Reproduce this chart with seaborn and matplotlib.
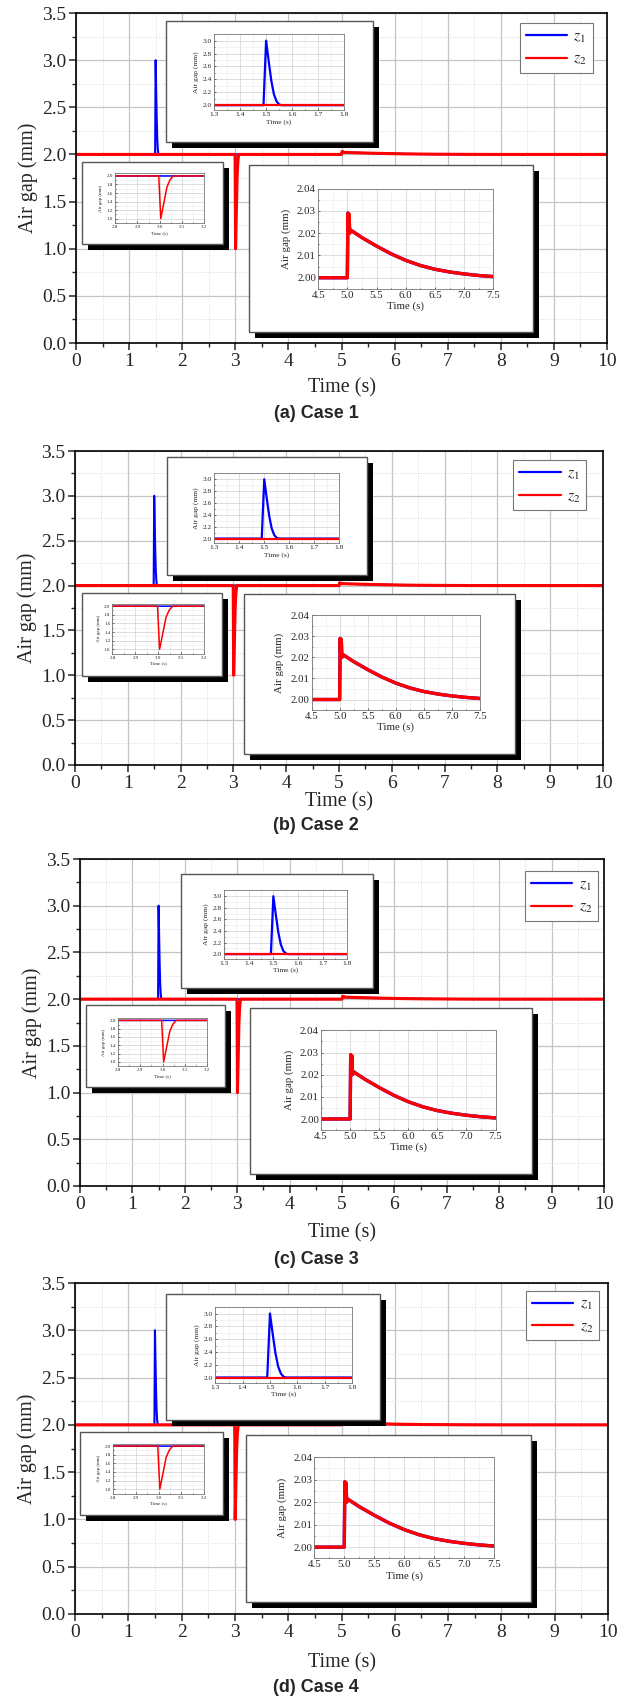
import numpy as np
import pandas as pd
import seaborn as sns
import matplotlib.pyplot as plt
from matplotlib.patches import Rectangle
from matplotlib.lines import Line2D
from matplotlib.ticker import MultipleLocator

# values (same response in all four cases)
time_s = [0.0, 1.49, 1.50, 1.51, 1.52, 1.53, 1.54, 1.55, 1.56,
          2.996, 3.005, 3.018, 3.033, 3.047, 3.062,
          5.0, 5.01, 5.02, 5.03, 5.04, 5.06, 5.25, 5.5, 5.75, 6.0,
          6.25, 6.5, 6.75, 7.0, 7.25, 7.5, 8.0, 10.0]
z1 = [2.0, 2.0, 3.0, 2.68, 2.38, 2.17, 2.06, 2.01, 2.0,
      2.0, 2.0, 2.0, 2.0, 2.0, 2.0,
      2.0, 2.029, 2.020, 2.0285, 2.020, 2.0213, 2.0180, 2.0142, 2.0107, 2.0078,
      2.0055, 2.0038, 2.0026, 2.0017, 2.0010, 2.0005, 2.0, 2.0]
z2 = [2.0, 2.0, 2.0, 2.0, 2.0, 2.0, 2.0, 2.0, 2.0,
      2.0, 1.0, 1.34, 1.74, 1.91, 2.0,
      2.0, 2.029, 2.020, 2.0285, 2.020, 2.0213, 2.0180, 2.0142, 2.0107, 2.0078,
      2.0055, 2.0038, 2.0026, 2.0017, 2.0010, 2.0005, 2.0, 2.0]
captions = ['(a) Case 1', '(b) Case 2', '(c) Case 3', '(d) Case 4']

df = pd.DataFrame({'Time': time_s, 'z1': z1, 'z2': z2})

# layout in pixels of the 632x1696 picture: left, right, top, bottom
main_px = [(76, 607, 13, 343), (75, 603, 451, 765), (80, 604, 859, 1186), (75, 608, 1283, 1614)]
xlabel_y = [388, 802, 1233, 1663]
caption_y = [414, 825, 1259, 1687]
# boxes in axes fraction: x0, x1, y0, y1
layouts = [
    dict(top_box=(0.170, 0.559, 0.608, 0.976), top_in=(0.260, 0.505, 0.705, 0.936),
         left_box=(0.011, 0.276, 0.300, 0.550), left_in=(0.074, 0.241, 0.364, 0.514),
         right_box=(0.326, 0.860, 0.034, 0.540), right_in=(0.456, 0.786, 0.164, 0.468),
         legend=(0.973, 0.969)),
    dict(top_box=(0.174, 0.553, 0.606, 0.982), top_in=(0.264, 0.500, 0.706, 0.929),
         left_box=(0.013, 0.278, 0.284, 0.549), left_in=(0.071, 0.245, 0.355, 0.514),
         right_box=(0.320, 0.834, 0.036, 0.545), right_in=(0.448, 0.767, 0.175, 0.477),
         legend=(0.968, 0.970)),
    dict(top_box=(0.192, 0.559, 0.606, 0.954), top_in=(0.275, 0.510, 0.695, 0.904),
         left_box=(0.011, 0.276, 0.303, 0.553), left_in=(0.073, 0.242, 0.367, 0.514),
         right_box=(0.324, 0.863, 0.036, 0.545), right_in=(0.460, 0.793, 0.171, 0.476),
         legend=(0.988, 0.963)),
    dict(top_box=(0.171, 0.572, 0.587, 0.967), top_in=(0.263, 0.520, 0.699, 0.927),
         left_box=(0.0095, 0.277, 0.299, 0.549), left_in=(0.072, 0.242, 0.364, 0.515),
         right_box=(0.320, 0.856, 0.035, 0.542), right_in=(0.449, 0.786, 0.168, 0.474),
         legend=(0.983, 0.977)),
]

BLUE = '#0000ff'
RED = '#ff0000'
SERIF = ['Liberation Serif', 'DejaVu Serif']

sns.set_style('ticks')
plt.rcParams['font.family'] = SERIF
plt.rcParams['mathtext.fontset'] = 'stix'

W, H = 632, 1696
fig = plt.figure(figsize=(W / 100, H / 100), dpi=100)


def draw_lines(ax, lw1, lw2):
    sns.lineplot(data=df, x='Time', y='z1', ax=ax, color=BLUE, lw=lw1, estimator=None, sort=False)
    sns.lineplot(data=df, x='Time', y='z2', ax=ax, color=RED, lw=lw2, estimator=None, sort=False)


def serif_ticks(ax):
    for lab in ax.get_xticklabels() + ax.get_yticklabels():
        lab.set_fontfamily(SERIF)


def framed_box(ax, box, wpx, hpx):
    x0, x1, y0, y1 = box
    dx, dy = 6 / wpx, 6 / hpx
    ax.add_patch(Rectangle((x0 + dx, y0 - dy), x1 - x0, y1 - y0, transform=ax.transAxes,
                           facecolor='black', edgecolor='none', zorder=3, clip_on=False))
    ax.add_patch(Rectangle((x0, y0), x1 - x0, y1 - y0, transform=ax.transAxes,
                           facecolor='white', edgecolor='#555555', lw=1.0, zorder=3.2, clip_on=False))


def inset(ax, pos, xlim, ylim, xmaj, xmin, ymaj, ymin, fs, lw1, lw2, yfmt, ylpad=2.5):
    x0, x1, y0, y1 = pos
    ia = ax.inset_axes([x0, y0, x1 - x0, y1 - y0], zorder=5)
    draw_lines(ia, lw1, lw2)
    ia.set_xlim(xlim)
    ia.set_ylim(ylim)
    ia.xaxis.set_major_locator(MultipleLocator(xmaj))
    ia.xaxis.set_minor_locator(MultipleLocator(xmin))
    ia.yaxis.set_major_locator(MultipleLocator(ymaj))
    ia.yaxis.set_minor_locator(MultipleLocator(ymin))
    ia.yaxis.set_major_formatter(yfmt)
    ia.xaxis.set_major_formatter('{x:.1f}')
    ia.grid(which='major', color='#cfcfcf', lw=0.5)
    ia.grid(which='minor', color='#ebebeb', lw=0.4)
    ia.set_axisbelow(True)
    ia.tick_params(which='both', labelsize=fs, length=1.5, width=0.5, pad=1.5, direction='in')
    ia.tick_params(which='minor', length=0.8)
    for s in ia.spines.values():
        s.set_color('#777777')
        s.set_linewidth(0.6)
    ia.set_xlabel('Time (s)', fontsize=fs, labelpad=1.2)
    ia.set_ylabel('Air gap (mm)', fontsize=fs, labelpad=ylpad)
    serif_ticks(ia)
    return ia


for i in range(4):
    l, r, t, b = main_px[i]
    wpx, hpx = r - l, b - t
    ax = fig.add_axes([l / W, 1 - b / H, wpx / W, hpx / H])
    draw_lines(ax, 1.5, 2.2)
    ax.set_xlim(0, 10)
    ax.set_ylim(0, 3.5)
    ax.xaxis.set_major_locator(MultipleLocator(1))
    ax.xaxis.set_minor_locator(MultipleLocator(0.5))
    ax.yaxis.set_major_locator(MultipleLocator(0.5))
    ax.yaxis.set_minor_locator(MultipleLocator(0.25))
    ax.yaxis.set_major_formatter('{x:.1f}')
    ax.grid(which='major', color='#c4c4c4', lw=0.9)
    ax.grid(which='minor', color='#d8d8d8', lw=0.7, ls=':')
    ax.set_axisbelow(True)
    ax.tick_params(which='major', labelsize=14, length=5, width=1.1, direction='out', pad=2)
    ax.tick_params(which='minor', length=3, width=1.0, direction='out')
    for s in ax.spines.values():
        s.set_color('black')
        s.set_linewidth(1.2)
    ax.set_xlabel('Time (s)', fontsize=14.5)
    ax.xaxis.set_label_coords(0.5, -(xlabel_y[i] - b - 10) / hpx)
    ax.set_ylabel('Air gap (mm)', fontsize=14.5, labelpad=3)
    serif_ticks(ax)

    lay = layouts[i]
    for key in ['top_box', 'left_box', 'right_box']:
        framed_box(ax, lay[key], wpx, hpx)
    inset(ax, lay['top_in'], (1.3, 1.8), (1.92, 3.1), 0.1, 0.05, 0.2, 0.1, 5.4, 1.6, 1.6, '{x:.1f}')
    inset(ax, lay['left_in'], (2.8, 3.2), (0.9, 2.06), 0.1, 0.05, 0.2, 0.1, 3.6, 1.1, 1.1, '{x:.1f}')
    inset(ax, lay['right_in'], (4.5, 7.5), (1.995, 2.04), 0.5, 0.25, 0.01, 0.005, 7.8, 2.4, 2.4,
          '{x:.2f}', ylpad=4.5)

    handles = [Line2D([], [], color=BLUE, lw=1.6), Line2D([], [], color=RED, lw=1.6)]
    leg = ax.legend(handles, ['$z_1$', '$z_2$'], loc='upper right', bbox_to_anchor=lay['legend'],
                    bbox_transform=ax.transAxes, frameon=True, fancybox=False, framealpha=1,
                    edgecolor='#777777', borderaxespad=0, handlelength=2.6, labelspacing=0.4,
                    handletextpad=0.4, borderpad=0.35, fontsize=11.5)
    leg.get_frame().set_linewidth(0.8)
    leg.set_zorder(6)

    fig.text(0.5, 1 - caption_y[i] / H, captions[i], ha='center', va='center',
             fontsize=13, fontweight='bold', family='Liberation Sans')

fig.savefig('out.png', dpi=100)
